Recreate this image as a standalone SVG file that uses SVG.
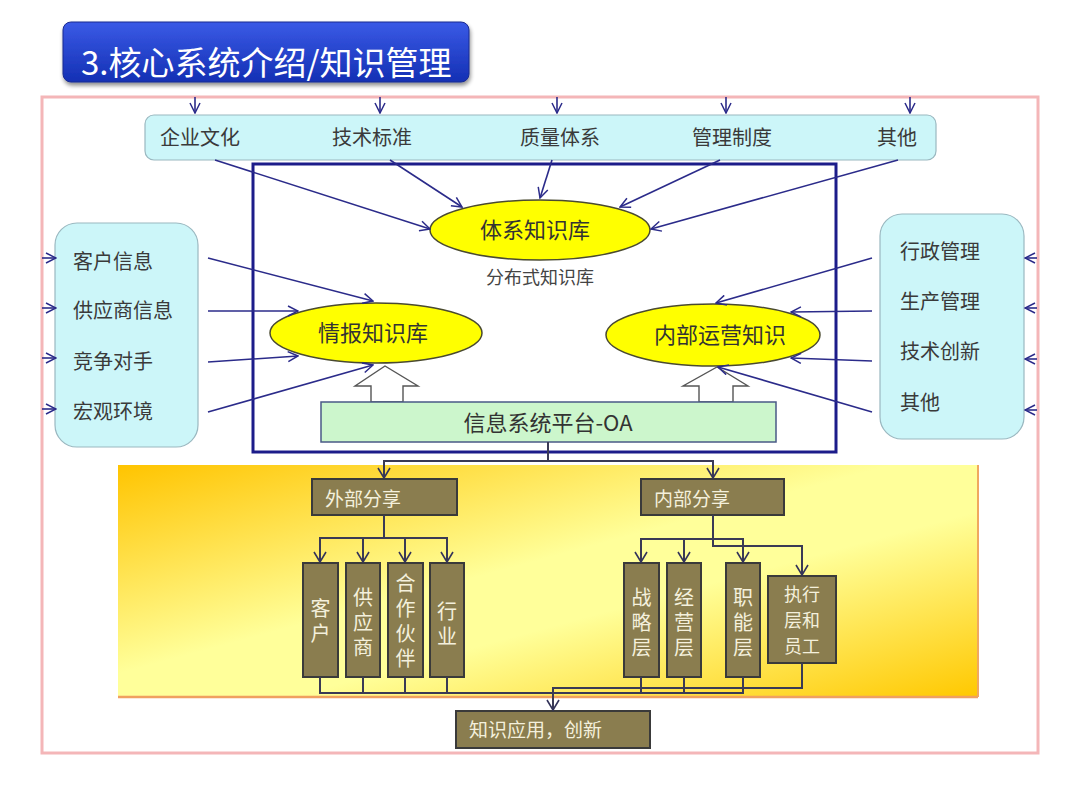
<svg xmlns="http://www.w3.org/2000/svg" width="1080" height="810" viewBox="0 0 1080 810">
<defs>
<linearGradient id="titleG" x1="0" y1="0" x2="0" y2="1">
<stop offset="0" stop-color="#3a5ae6"/>
<stop offset="1" stop-color="#1430b4"/>
</linearGradient>
<linearGradient id="yellowG" x1="0" y1="0" x2="1" y2="1">
<stop offset="0" stop-color="#ffc400"/>
<stop offset="0.45" stop-color="#ffff9a"/>
<stop offset="0.6" stop-color="#ffff9a"/>
<stop offset="1" stop-color="#ffc800"/>
</linearGradient>
<filter id="sh" x="-5%" y="-10%" width="110%" height="130%">
<feGaussianBlur in="SourceAlpha" stdDeviation="2"/>
<feOffset dx="1" dy="3" result="b"/>
<feComponentTransfer><feFuncA type="linear" slope="0.45"/></feComponentTransfer>
<feMerge><feMergeNode/><feMergeNode in="SourceGraphic"/></feMerge>
</filter>
<marker id="av" markerUnits="userSpaceOnUse" markerWidth="12" markerHeight="12" viewBox="0 0 12 12" refX="11" refY="6" orient="auto">
<path d="M1,1 L11,6 L1,11" fill="none" stroke="#2b2b8a" stroke-width="1.5"/>
</marker>
<marker id="ad" markerUnits="userSpaceOnUse" markerWidth="12" markerHeight="14" viewBox="0 0 12 14" refX="11" refY="7" orient="auto">
<path d="M1,1 L11,7 L1,13" fill="none" stroke="#33335a" stroke-width="1.6"/>
</marker>
</defs>
<style>
.t{font-family:"Noto Sans CJK SC","Noto Sans",sans-serif;}
.side{font-size:20px;fill:#3a3a3a;}
.ell{fill:#ffff00;stroke:#4a4a30;stroke-width:1.5;}
.ellt{font-size:22px;fill:#333;text-anchor:middle;}
.cy{fill:#ccf6f9;stroke:#9ab8c0;stroke-width:1.2;}
.ol{fill:#8a7d4f;stroke:#3a3a3a;stroke-width:2;}
.olt{font-size:19px;fill:#f4f0dc;}
.vt{font-size:20px;fill:#f4f0dc;text-anchor:middle;writing-mode:vertical-rl;letter-spacing:5px;}
.ht{font-size:18px;fill:#f4f0dc;text-anchor:middle;}
.cn{fill:none;stroke:#2b2b8a;stroke-width:1.6;}
.bc{fill:none;stroke:#3a3a55;stroke-width:2;}
.hol{fill:#ffffff;stroke:#555555;stroke-width:1.4;}
</style>
<rect width="1080" height="810" fill="#ffffff"/>

<g id="title">
<rect x="63" y="22" width="406" height="60" rx="8" fill="url(#titleG)" stroke="#1a2a90" stroke-width="1" filter="url(#sh)"/>
<text class="t" x="81" y="75" font-size="33" fill="#ffffff">3.核心系统介绍/知识管理</text>
</g>

<g id="frame">
<rect x="42" y="97" width="996" height="656" fill="none" stroke="#f4b6b8" stroke-width="3"/>
</g>

<g id="bottom-panel">
<rect x="118" y="465" width="860" height="232" fill="url(#yellowG)"/>
<line x1="118" y1="697" x2="978" y2="697" stroke="#f0a060" stroke-width="2.5"/>
<line x1="978" y1="465" x2="978" y2="697" stroke="#f0a860" stroke-width="2"/>
</g>

<g id="inner-frame">
<rect x="253" y="164" width="583" height="288" fill="none" stroke="#1c1c8a" stroke-width="3"/>
</g>

<g id="top-box">
<rect class="cy" x="145" y="115" width="791" height="45" rx="9"/>
<text class="t side" x="200" y="145" text-anchor="middle">企业文化</text>
<text class="t side" x="372" y="145" text-anchor="middle">技术标准</text>
<text class="t side" x="560" y="145" text-anchor="middle">质量体系</text>
<text class="t side" x="732" y="145" text-anchor="middle">管理制度</text>
<text class="t side" x="897" y="145" text-anchor="middle">其他</text>
</g>

<g id="left-box">
<rect class="cy" x="55" y="223" width="143" height="224" rx="22"/>
<text class="t side" x="73" y="269">客户信息</text>
<text class="t side" x="73" y="318">供应商信息</text>
<text class="t side" x="73" y="369">竞争对手</text>
<text class="t side" x="73" y="419">宏观环境</text>
</g>

<g id="right-box">
<rect class="cy" x="880" y="214" width="144" height="225" rx="22"/>
<text class="t side" x="900" y="259">行政管理</text>
<text class="t side" x="900" y="309">生产管理</text>
<text class="t side" x="900" y="359">技术创新</text>
<text class="t side" x="900" y="410">其他</text>
</g>

<g id="node-tixi">
<ellipse class="ell" cx="540" cy="230" rx="110" ry="30"/>
<text class="t ellt" x="535" y="238">体系知识库</text>
</g>

<g id="label-fenbu">
<text class="t" x="540" y="284" font-size="18" fill="#444" text-anchor="middle">分布式知识库</text>
</g>

<g id="node-qingbao">
<ellipse class="ell" cx="376" cy="333" rx="106" ry="30"/>
<text class="t ellt" x="373" y="341">情报知识库</text>
</g>

<g id="node-neibu">
<ellipse class="ell" cx="713" cy="335" rx="107" ry="31"/>
<text class="t ellt" x="720" y="343">内部运营知识</text>
</g>

<g id="node-oa">
<polygon class="hol" points="371,402 371,386 355,386 385,366 418,386 403,386 403,402"/>
<polygon class="hol" points="699,402 699,386 683,386 717,367 748,386 733,386 733,402"/>
<rect x="321" y="402" width="455" height="40" fill="#ccf6cc" stroke="#4a5a86" stroke-width="1.5"/>
<text class="t" x="548" y="431" font-size="22" fill="#333" text-anchor="middle">信息系统平台-OA</text>
</g>

<g id="node-waibu">
<rect class="ol" x="312" y="479" width="145" height="36"/>
<text class="t olt" x="325" y="506">外部分享</text>
</g>
<g id="node-neibufx">
<rect class="ol" x="641" y="479" width="143" height="36"/>
<text class="t olt" x="654" y="506">内部分享</text>
</g>

<g id="node-kehu">
<rect class="ol" x="303" y="563" width="35" height="114"/>
<text class="t vt" x="320.5" y="623">客户</text>
</g>
<g id="node-gongying">
<rect class="ol" x="346" y="563" width="34" height="114"/>
<text class="t vt" x="363" y="625">供应商</text>
</g>
<g id="node-hezuo">
<rect class="ol" x="388" y="563" width="35" height="114"/>
<text class="t vt" x="405.5" y="623">合作伙伴</text>
</g>
<g id="node-hangye">
<rect class="ol" x="430" y="563" width="34" height="114"/>
<text class="t vt" x="447" y="626">行业</text>
</g>

<g id="node-zhanlue">
<rect class="ol" x="624" y="563" width="35" height="114"/>
<text class="t vt" x="641.5" y="625">战略层</text>
</g>
<g id="node-jingying">
<rect class="ol" x="667" y="563" width="34" height="114"/>
<text class="t vt" x="684" y="625">经营层</text>
</g>
<g id="node-zhineng">
<rect class="ol" x="726" y="563" width="34" height="114"/>
<text class="t vt" x="743" y="625">职能层</text>
</g>
<g id="node-zhixing">
<rect class="ol" x="768" y="576" width="68" height="87"/>
<text class="t ht" x="802" y="601">执行<tspan x="802" dy="26">层和</tspan><tspan x="802" dy="26">员工</tspan></text>
</g>

<g id="node-yingyong">
<rect class="ol" x="456" y="711" width="194" height="37"/>
<text class="t olt" x="469" y="737">知识应用，创新</text>
</g>

<g id="connectors">
<line class="cn" x1="195" y1="97" x2="195" y2="113" marker-end="url(#av)"/>
<line class="cn" x1="380" y1="97" x2="380" y2="113" marker-end="url(#av)"/>
<line class="cn" x1="557" y1="97" x2="557" y2="113" marker-end="url(#av)"/>
<line class="cn" x1="726" y1="97" x2="726" y2="113" marker-end="url(#av)"/>
<line class="cn" x1="910" y1="97" x2="910" y2="113" marker-end="url(#av)"/>
<line class="cn" x1="42" y1="258" x2="56" y2="258" marker-end="url(#av)"/>
<line class="cn" x1="42" y1="308" x2="56" y2="308" marker-end="url(#av)"/>
<line class="cn" x1="42" y1="358" x2="56" y2="358" marker-end="url(#av)"/>
<line class="cn" x1="42" y1="409" x2="56" y2="409" marker-end="url(#av)"/>
<line class="cn" x1="1037" y1="258" x2="1025" y2="258" marker-end="url(#av)"/>
<line class="cn" x1="1037" y1="308" x2="1025" y2="308" marker-end="url(#av)"/>
<line class="cn" x1="1037" y1="359" x2="1025" y2="359" marker-end="url(#av)"/>
<line class="cn" x1="1037" y1="410" x2="1025" y2="410" marker-end="url(#av)"/>
<line class="cn" x1="215" y1="160" x2="430" y2="229" marker-end="url(#av)"/>
<line class="cn" x1="390" y1="160" x2="462" y2="207" marker-end="url(#av)"/>
<line class="cn" x1="552" y1="160" x2="540" y2="198" marker-end="url(#av)"/>
<line class="cn" x1="720" y1="160" x2="620" y2="207" marker-end="url(#av)"/>
<line class="cn" x1="898" y1="160" x2="651" y2="229" marker-end="url(#av)"/>
<line class="cn" x1="208" y1="258" x2="373" y2="301" marker-end="url(#av)"/>
<line class="cn" x1="208" y1="311" x2="298" y2="311" marker-end="url(#av)"/>
<line class="cn" x1="208" y1="362" x2="298" y2="356" marker-end="url(#av)"/>
<line class="cn" x1="208" y1="412" x2="373" y2="365" marker-end="url(#av)"/>
<line class="cn" x1="872" y1="258" x2="716" y2="303" marker-end="url(#av)"/>
<line class="cn" x1="872" y1="311" x2="791" y2="312" marker-end="url(#av)"/>
<line class="cn" x1="872" y1="361" x2="791" y2="358" marker-end="url(#av)"/>
<line class="cn" x1="872" y1="412" x2="718" y2="367" marker-end="url(#av)"/>
<path class="bc" d="M548,442 V461 H384 V478" marker-end="url(#ad)"/>
<path class="bc" d="M548,461 H713 V478" marker-end="url(#ad)"/>
<path class="bc" d="M384,515 V538"/>
<path class="bc" d="M320,562 V538 H447 V562" marker-end="url(#ad)"/>
<path class="bc" d="M320,538 V562" marker-end="url(#ad)"/>
<path class="bc" d="M363,538 V562" marker-end="url(#ad)"/>
<path class="bc" d="M405,538 V562" marker-end="url(#ad)"/>
<path class="bc" d="M713,515 V546 H802 V575" marker-end="url(#ad)"/>
<path class="bc" d="M641,562 V539 H743 V562" marker-end="url(#ad)"/>
<path class="bc" d="M641,539 V562" marker-end="url(#ad)"/>
<path class="bc" d="M684,539 V562" marker-end="url(#ad)"/>
<path class="bc" d="M320,677 V693 H743 V677"/>
<path class="bc" d="M363,677 V693"/>
<path class="bc" d="M405,677 V693"/>
<path class="bc" d="M447,677 V693"/>
<path class="bc" d="M641,677 V693"/>
<path class="bc" d="M684,677 V693"/>
<path class="bc" d="M802,663 V688 H553 V710" marker-end="url(#ad)"/>
</g>
</svg>
